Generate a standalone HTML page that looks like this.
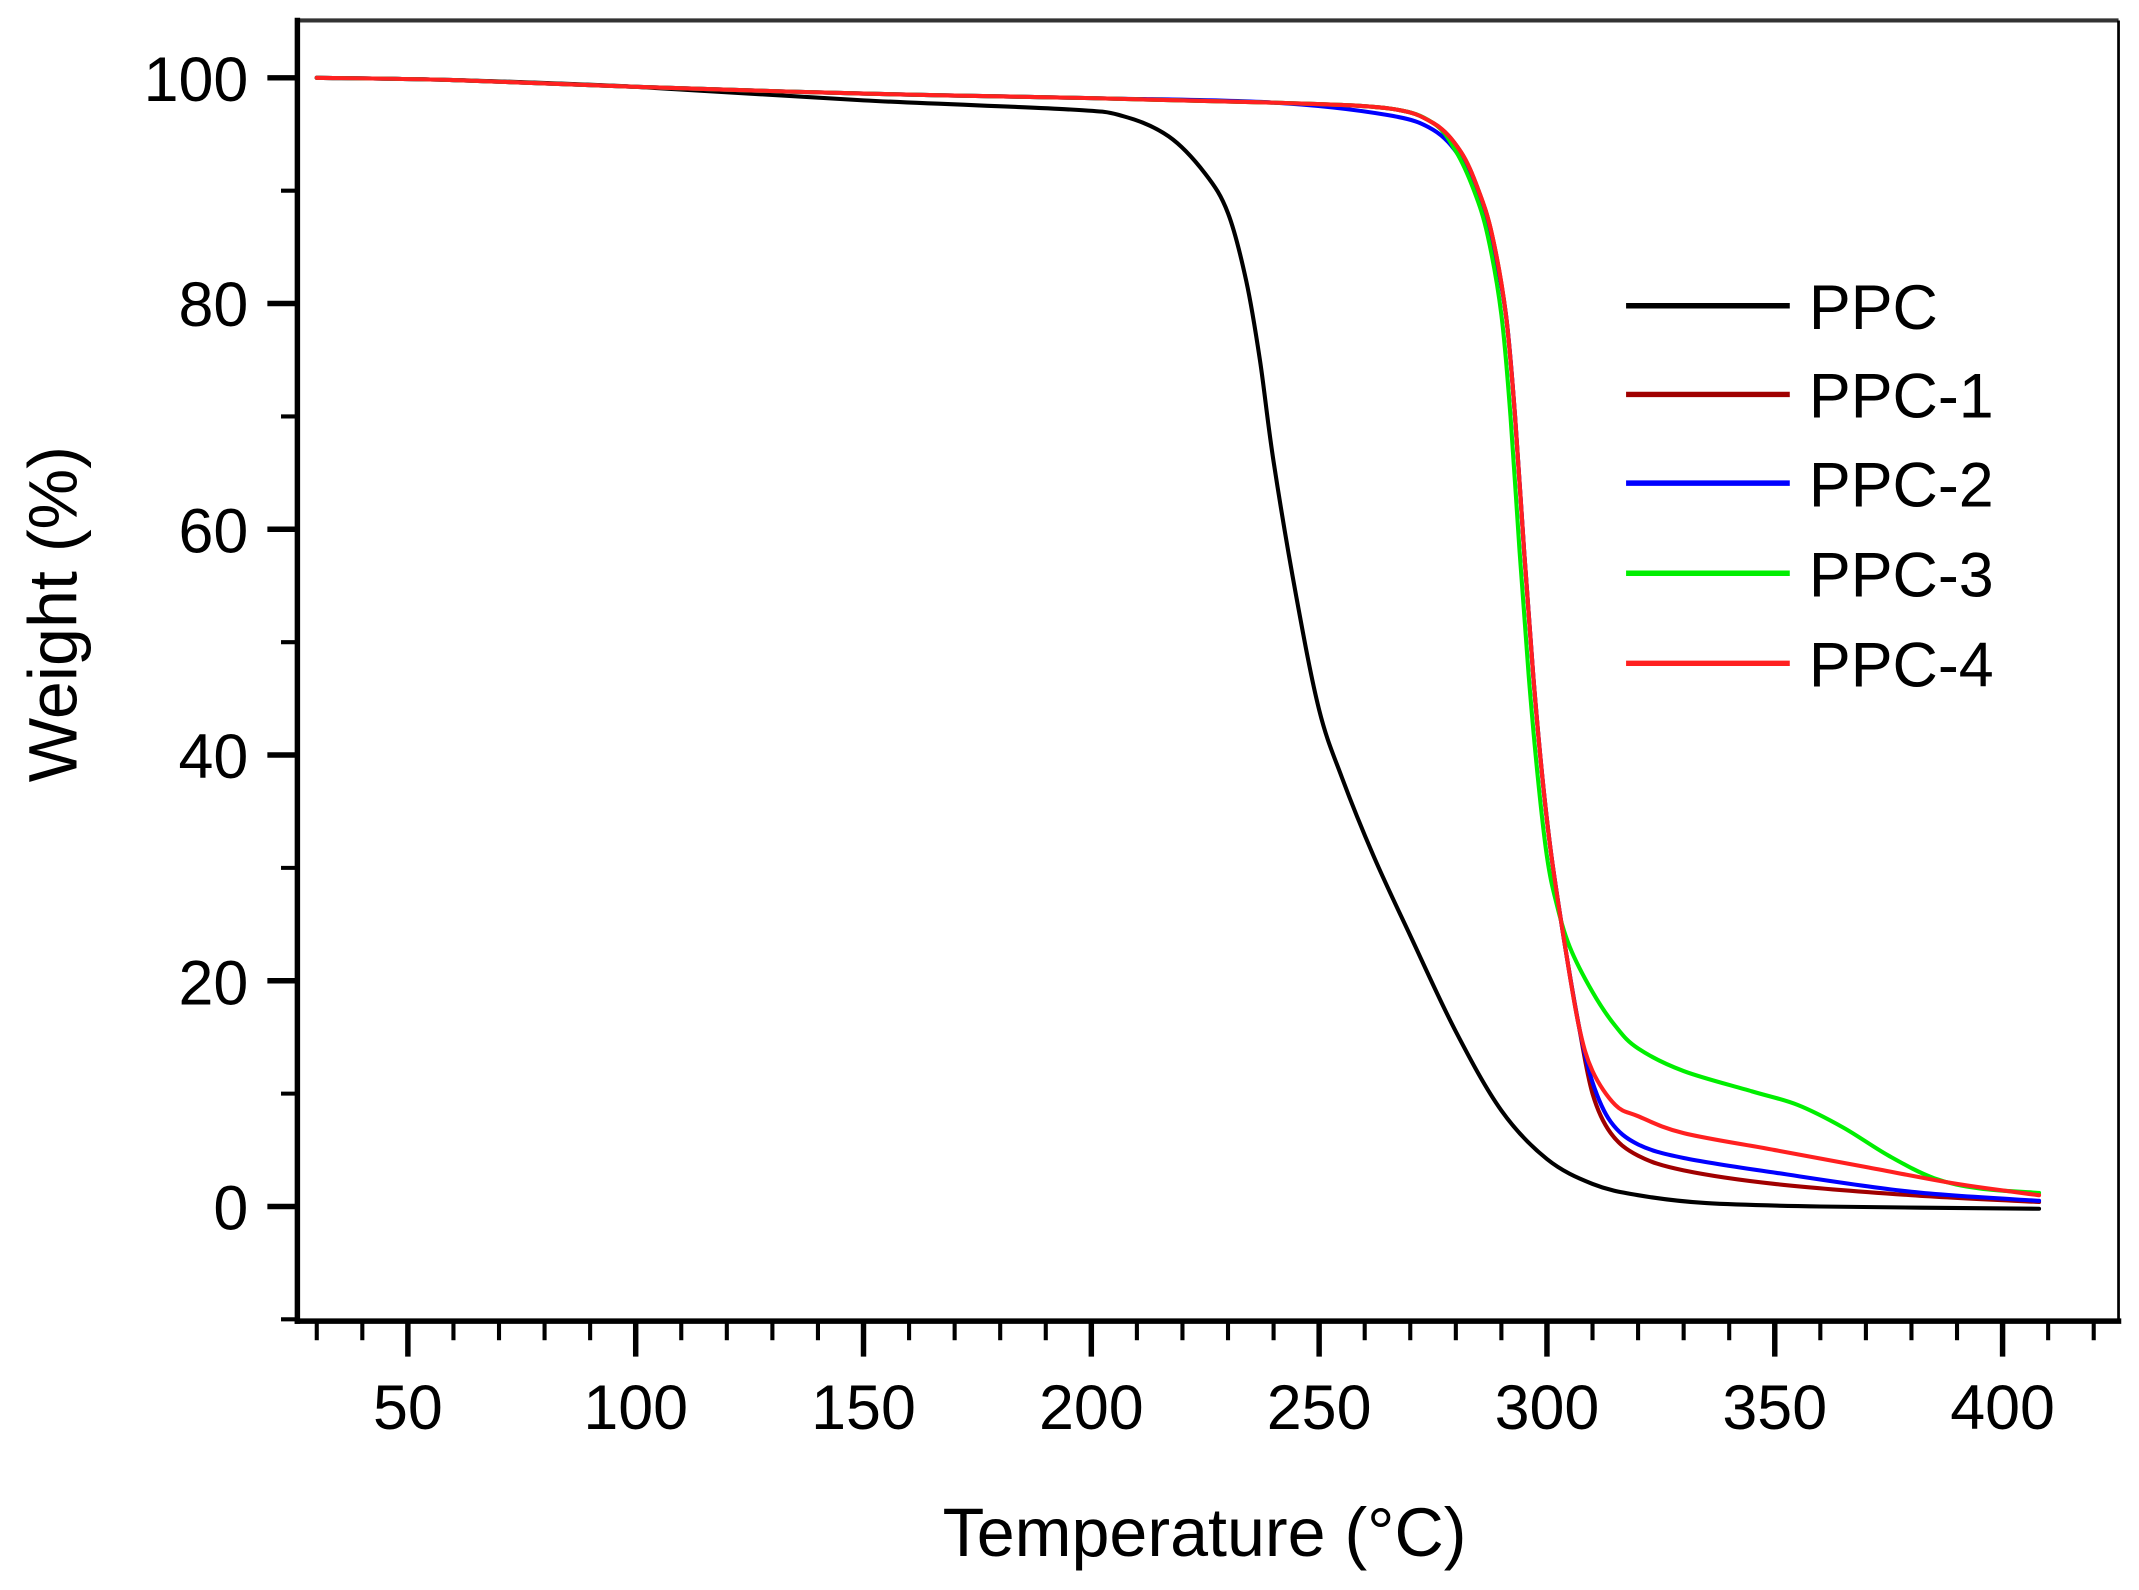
<!DOCTYPE html>
<html><head><meta charset="utf-8"><style>
html,body{margin:0;padding:0;background:#fff;}
svg{display:block;}
text{font-family:"Liberation Sans",Arial,sans-serif;fill:#000;}
</style></head><body>
<svg id="s" width="2139" height="1590" viewBox="0 0 1568 1165" preserveAspectRatio="none" xmlns="http://www.w3.org/2000/svg">
<rect x="0" y="0" width="1568" height="1165" fill="#fff"/>
<g id="ticks"></g>
<g id="curves" fill="none" stroke-width="3" stroke-linejoin="round" stroke-linecap="round"></g>
<line x1="218" y1="15" x2="1553" y2="15" stroke="#333" stroke-width="3"/>
<line x1="1553" y1="15" x2="1553" y2="968" stroke="#000" stroke-width="2"/>
<line x1="218" y1="13" x2="218" y2="970" stroke="#000" stroke-width="4"/>
<line x1="216" y1="968" x2="1555" y2="968" stroke="#000" stroke-width="4"/>
<g font-size="46" text-anchor="end">
<text x="182" y="74">100</text>
<text x="182" y="239">80</text>
<text x="182" y="405">60</text>
<text x="182" y="570">40</text>
<text x="182" y="736">20</text>
<text x="182" y="901">0</text>
</g>
<g font-size="46" text-anchor="middle">
<text x="299" y="1047">50</text>
<text x="466" y="1047">100</text>
<text x="633" y="1047">150</text>
<text x="800" y="1047">200</text>
<text x="967" y="1047">250</text>
<text x="1134" y="1047">300</text>
<text x="1301" y="1047">350</text>
<text x="1468" y="1047">400</text>
</g>
<text x="883" y="1140" font-size="50" text-anchor="middle">Temperature (°C)</text>
<text transform="translate(56,450) rotate(-90)" font-size="50" text-anchor="middle">Weight (%)</text>
<g stroke-width="4">
<line x1="1192" y1="224" x2="1312" y2="224" stroke="#000"/>
<line x1="1192" y1="289" x2="1312" y2="289" stroke="#a00000"/>
<line x1="1192" y1="354" x2="1312" y2="354" stroke="#0000ff"/>
<line x1="1192" y1="420" x2="1312" y2="420" stroke="#00ee00"/>
<line x1="1192" y1="486" x2="1312" y2="486" stroke="#ff2020"/>
</g>
<g font-size="46">
<text x="1326" y="241">PPC</text>
<text x="1326" y="306">PPC-1</text>
<text x="1326" y="371">PPC-2</text>
<text x="1326" y="437">PPC-3</text>
<text x="1326" y="503">PPC-4</text>
</g>
</svg>
<script>
var NS="http://www.w3.org/2000/svg";
function X(t){return 299+(t-50)*3.34;}
function Y(w){return 884-w*8.27;}
var tk=document.getElementById('ticks');
function ln(x1,y1,x2,y2,w){var l=document.createElementNS(NS,'line');l.setAttribute('x1',x1);l.setAttribute('y1',y1);l.setAttribute('x2',x2);l.setAttribute('y2',y2);l.setAttribute('stroke','#000');l.setAttribute('stroke-width',w);tk.appendChild(l);}
for(var t=30;t<=420;t+=10){var maj=(t%50==0);ln(X(t),968,X(t),maj?994:982,maj?4:3);}
for(var w=-10;w<=100;w+=10){var maj=(w%20==0);ln(218,Y(w),maj?196:206,Y(w),maj?4:3);}
var base=[[30,100],[60,99.8],[100,99.2],[150,98.6],[200,98.2],[240,97.8],[265,97.3],[275,96],[281,93.5],[285,90],[288,86],[291,79],[293,70],[295,58],[297,47],[299,38],[301,31],[304,23],[307,16]];
var sets={
"#000":[[30,100],[60,99.8],[100,99.2],[150,98],[195,97.2],[207,96.6],[217,94.8],[225,91.5],[230,88],[234,82],[237,75],[240,66],[245,54],[250,44],[255,38],[262,31],[270,24],[280,15.5],[290,8.5],[300,4.2],[310,2],[320,1],[335,0.3],[360,0],[408,-0.2]],
"#a00000":base.concat([[310,10],[314,6.5],[320,4.5],[330,3.2],[350,2],[380,1],[408,0.4]]),
"#0000ff":base.map(function(p){return [p[0],p[1]-(p[0]>240&&p[0]<290?0.6:0)]}).concat([[310,11],[314,7.5],[320,5.5],[330,4.3],[350,3],[380,1.3],[408,0.5]]),
"#ff2020":base.concat([[310,12],[315,9],[320,8],[330,6.5],[350,5],[370,3.5],[390,2],[408,1]]),
"#00ee00":[[30,100],[60,99.8],[100,99.2],[150,98.6],[200,98.2],[240,97.8],[265,97.3],[275,96],[280,93.5],[284,90],[287,86],[290,79],[292,70],[294,58],[296,47],[298,38],[300,31],[302,27],[305,23],[310,19],[315,16],[320,14],[330,12],[345,10.2],[355,9],[365,7],[375,4.5],[385,2.5],[395,1.6],[408,1.2]]
};
var order=["#000","#a00000","#0000ff","#00ee00","#ff2020"];
var g=document.getElementById('curves');
order.forEach(function(c){var pts=sets[c];var d="";
for(var i=0;i<pts.length;i++){var p=pts[i];
if(i==0){d+="M"+X(p[0])+","+Y(p[1]);continue;}
var p0=pts[i-2]||pts[i-1],p1=pts[i-1],p2=p,p3=pts[i+1]||p;
var c1x=X(p1[0])+(X(p2[0])-X(p0[0]))/6,c1y=Y(p1[1])+(Y(p2[1])-Y(p0[1]))/6;
var c2x=X(p2[0])-(X(p3[0])-X(p1[0]))/6,c2y=Y(p2[1])-(Y(p3[1])-Y(p1[1]))/6;
d+="C"+c1x+","+c1y+" "+c2x+","+c2y+" "+X(p2[0])+","+Y(p2[1]);}
var pa=document.createElementNS(NS,'path');pa.setAttribute('d',d);pa.setAttribute('stroke',c);g.appendChild(pa);});
</script>
</body></html>
